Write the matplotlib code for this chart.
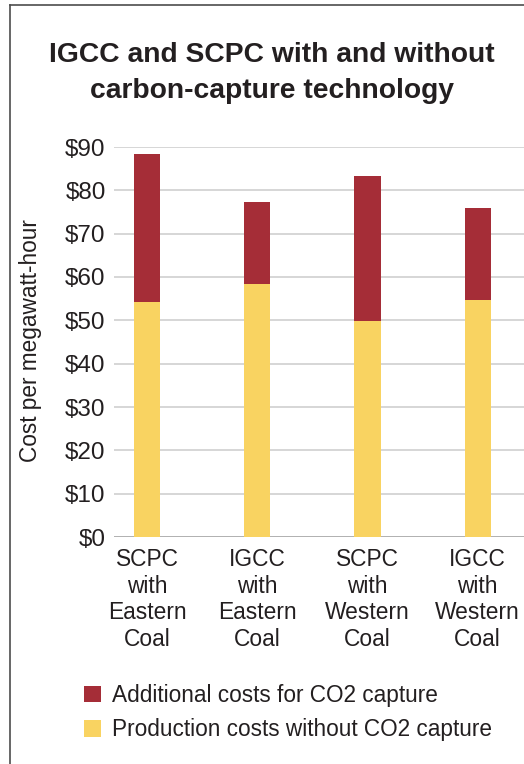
import numpy as np
import matplotlib
matplotlib.use("Agg")
import matplotlib.pyplot as plt
from matplotlib.lines import Line2D
from matplotlib.patches import Patch

plt.rcParams['font.family'] = ['Liberation Sans', 'DejaVu Sans']

categories = ["SCPC\nwith\nEastern\nCoal", "IGCC\nwith\nEastern\nCoal",
              "SCPC\nwith\nWestern\nCoal", "IGCC\nwith\nWestern\nCoal"]
production = [54.3, 58.3, 49.9, 54.8]
additional = [34.1, 19.1, 33.5, 21.2]
yticks = [0, 10, 20, 30, 40, 50, 60, 70, 80, 90]

red = '#a52d37'
yellow = '#f9d361'
ink = '#231f20'

W, H = 524, 764
fig = plt.figure(figsize=(W / 100, H / 100), dpi=100)
ax = fig.add_axes([114 / W, 1 - 537 / H, (W - 114) / W, (537 - 147) / H])

x = np.arange(len(categories))
ax.bar(x, production, width=0.236, color=yellow, zorder=2)
ax.bar(x, additional, bottom=production, width=0.236, color=red, zorder=2)

ax.set_xlim(-0.30, 3.42)
ax.set_ylim(0, 90)
ax.set_yticks(yticks)
ax.set_yticklabels(['$' + str(v) for v in yticks], fontsize=17.5, color=ink)
ax.set_xticks(x)
ax.set_xticklabels(categories, fontsize=16.4, color=ink, linespacing=1.2)
ax.tick_params(axis='both', length=0)
ax.tick_params(axis='y', pad=6)
ax.tick_params(axis='x', pad=8)
for s in ax.spines.values():
    s.set_visible(False)
ax.yaxis.grid(True, color='#cbcbcb', linewidth=1.1, zorder=0)
ax.set_axisbelow(True)
ax.axhline(0, color='#a8a8a8', linewidth=1.1, zorder=1)

fig.text(31 / W, 1 - 341 / H, "Cost per megawatt-hour", rotation=90,
         ha='center', va='center', fontsize=16.3, color=ink)

fig.text(272 / W, 1 - 42 / H, "IGCC and SCPC with and without\ncarbon-capture technology",
         ha='center', va='top', fontsize=20.3, fontweight='bold', color=ink,
         linespacing=1.5)

# frame lines on the left and top
fig.add_artist(Line2D([10 / W, 10 / W], [0, 1 - 5 / H], color='#4d4d4d', linewidth=1.2))
fig.add_artist(Line2D([10 / W, 1], [1 - 5 / H, 1 - 5 / H], color='#4d4d4d', linewidth=1.2))

handles = [Patch(facecolor=red, edgecolor='none'), Patch(facecolor=yellow, edgecolor='none')]
fig.legend(handles, ["Additional costs for CO2 capture", "Production costs without CO2 capture"],
           loc='upper left', bbox_to_anchor=(84 / W, 1 - 684 / H), frameon=False,
           fontsize=16.3, handlelength=0.75, handleheight=0.75, handletextpad=0.5,
           labelspacing=0.5, borderpad=0, borderaxespad=0, labelcolor=ink)

fig.savefig("out.png", dpi=100)
